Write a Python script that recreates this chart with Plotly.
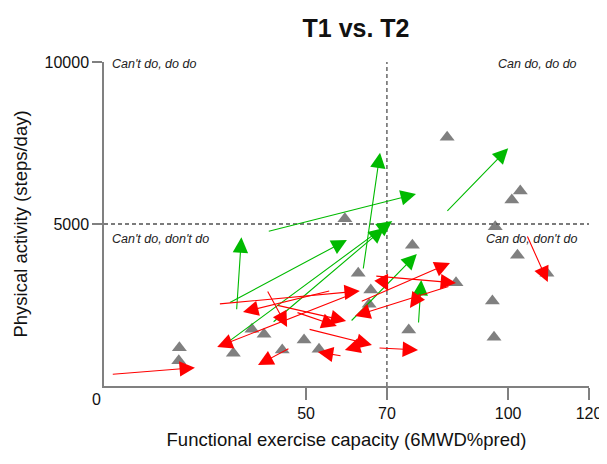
import plotly.graph_objects as go

# ---------------- data ----------------
# grey triangles (no change / single measurement)
gray_x = [18.65, 18.5, 32.0, 36.6, 39.6, 44.1, 49.5, 53.2, 59.6, 84.9, 103.0, 100.9,
          96.8, 76.3, 102.3, 62.9, 109.6, 87.1, 66.0, 65.6, 96.1, 75.4, 96.5]
gray_y = [1182, 781, 1009, 1750, 1596, 1111, 1420, 1133, 5164, 7676, 6019, 5741,
          4917, 4343, 4034, 3478, 3478, 3188, 2963, 2522, 2623, 1728, 1503]

# improvements (green arrows): T1 -> T2
up_x_t1 = [32.8, 30.8, 40.4, 30.7, 41.6, 64.1, 84.6, 60.9, 77.8]
up_y_t1 = [2324, 2552, 4762, 1358, 1944, 3580, 5361, 1975, 1914]
up_x_t2 = [34.0, 60.1, 77.2, 71.3, 69.3, 68.3, 100.0, 77.4, 78.5]
up_y_t2 = [4590, 4506, 5926, 5093, 4877, 7201, 7336, 4074, 3272]

# declines (red arrows): T1 -> T2
down_x_t1 = [1.8, 28.3, 56.1, 40.3, 42.6, 47.5, 63.4, 68.3, 67.0, 85.6, 78.4,
             50.5, 58.9, 64.6, 67.8, 46.0, 62.1, 104.6]
down_y_t1 = [361, 2531, 2941, 2963, 2500, 2280, 2593, 3426, 3395, 3086, 2901,
             1759, 926, 1296, 1173, 1173, 2870, 4660]
down_x_t2 = [22.5, 63.3, 34.4, 45.3, 59.9, 57.6, 85.6, 70.3, 87.1, 62.1, 75.7,
             66.3, 52.9, 59.6, 77.7, 38.1, 28.0, 109.8]
down_y_t2 = [565, 2932, 2284, 1821, 2006, 1850, 3796, 2932, 3179, 2160, 2407,
             1265, 1049, 1111, 1111, 648, 1204, 3210]

x_cut = 70
y_cut = 5000
x_ticks = [50, 70, 100, 120]
y_ticks = [5000, 10000]
y_tick_labels = ["5000", "10000"]
quadrant_labels = ["Can't do, do do", "Can do, do do", "Can't do, don't do", "Can do, don't do"]

FONT = "Arial, Liberation Sans, sans-serif"
GREEN = "#00BA00"
RED = "#FF0000"
GREY = "#808080"

fig = go.Figure()

fig.add_trace(go.Scatter(
    x=gray_x, y=gray_y, mode="markers",
    marker=dict(symbol="triangle-up", size=13, color=GREY),
    hoverinfo="skip", showlegend=False, cliponaxis=False))

annotations = []
for x0, y0, x1, y1 in zip(up_x_t1, up_y_t1, up_x_t2, up_y_t2):
    annotations.append(dict(x=x1, y=y1, ax=x0, ay=y0, xref="x", yref="y", axref="x", ayref="y",
                            text="", showarrow=True, arrowhead=2, arrowsize=2.8, arrowwidth=1.1,
                            arrowcolor=GREEN, standoff=0, startstandoff=0))
for x0, y0, x1, y1 in zip(down_x_t1, down_y_t1, down_x_t2, down_y_t2):
    annotations.append(dict(x=x1, y=y1, ax=x0, ay=y0, xref="x", yref="y", axref="x", ayref="y",
                            text="", showarrow=True, arrowhead=2, arrowsize=2.8, arrowwidth=1.1,
                            arrowcolor=RED, standoff=0, startstandoff=0))

lab_font = dict(family=FONT, size=12.5, color="#222")
annotations += [
    dict(x=1.5, y=9940, xref="x", yref="y", text="<i>" + quadrant_labels[0] + "</i>", showarrow=False,
         xanchor="left", yanchor="middle", font=lab_font),
    dict(x=117.6, y=9940, xref="x", yref="y", text="<i>" + quadrant_labels[1] + "</i>", showarrow=False,
         xanchor="right", yanchor="middle", font=lab_font),
    dict(x=1.5, y=4540, xref="x", yref="y", text="<i>" + quadrant_labels[2] + "</i>", showarrow=False,
         xanchor="left", yanchor="middle", font=lab_font),
    dict(x=117.6, y=4540, xref="x", yref="y", text="<i>" + quadrant_labels[3] + "</i>", showarrow=False,
         xanchor="right", yanchor="middle", font=lab_font),
    dict(x=0, y=0, xref="x", yref="y", text="0", showarrow=False, xshift=-8, yshift=-13,
         xanchor="center", yanchor="middle", font=dict(family=FONT, size=16, color="#111")),
]

shapes = [
    dict(type="line", xref="x", yref="y", x0=x_cut, x1=x_cut, y0=0, y1=10000,
         line=dict(color="#505050", width=1.3, dash="4px,3px")),
    dict(type="line", xref="x", yref="y", x0=0, x1=120, y0=y_cut, y1=y_cut,
         line=dict(color="#505050", width=1.3, dash="4px,3px")),
]

# the page body adds an 8 px margin, so the figure is sized to fill the window from there
fig.update_layout(
    template="none",
    width=599, height=456,
    margin=dict(l=96, r=18, t=54, b=78, autoexpand=False),
    paper_bgcolor="white", plot_bgcolor="white",
    title=dict(text="<b>T1 vs. T2</b>", x=0.581, xanchor="center", y=0.956, yanchor="middle",
               font=dict(family=FONT, size=25, color="#111")),
    font=dict(family=FONT, size=16, color="#111"),
    annotations=annotations, shapes=shapes, showlegend=False,
)
fig.update_xaxes(range=[0, 120], tickvals=x_ticks, ticks="outside", ticklen=12, tickwidth=1.5,
                 tickcolor=GREY, showline=True, linecolor=GREY, linewidth=1.5, showgrid=False,
                 zeroline=False, tickfont=dict(size=16), automargin=False,
                 title=dict(text="Functional exercise capacity (6MWD%pred)", standoff=12,
                            font=dict(size=18.5)))
fig.update_yaxes(range=[0, 10000], tickvals=y_ticks, ticktext=y_tick_labels, ticks="outside",
                 ticklen=10, tickwidth=1.5, tickcolor=GREY, showline=True, linecolor=GREY,
                 linewidth=1.5, showgrid=False, zeroline=False, tickfont=dict(size=16),
                 automargin=False,
                 title=dict(text="Physical activity (steps/day)", standoff=12, font=dict(size=18.5)))

fig.write_html("out.html")
